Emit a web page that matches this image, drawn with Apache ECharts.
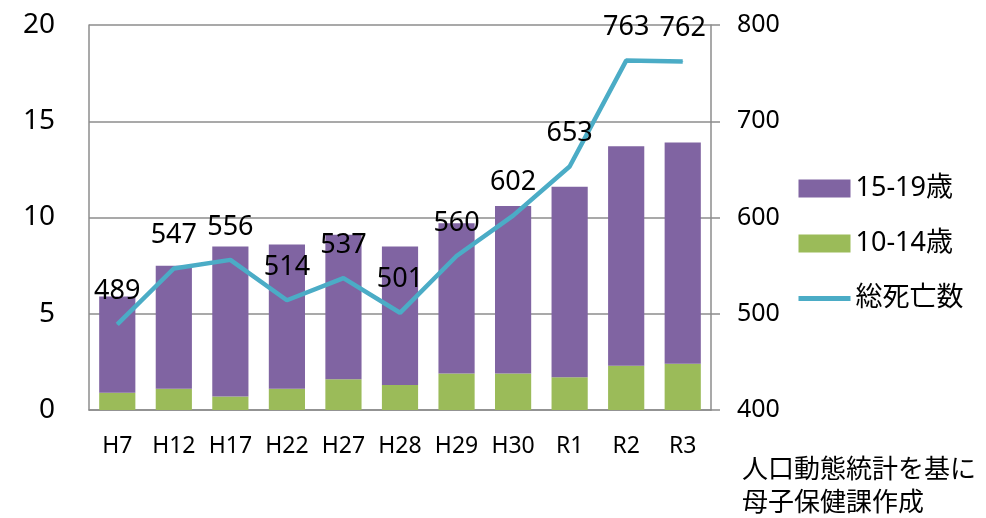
<!DOCTYPE html>
<html>
<head>
<meta charset="utf-8">
<script src="https://cdn.jsdelivr.net/npm/echarts@6/dist/echarts.min.js"></script>
<style>
  html, body { margin: 0; padding: 0; background: #fff; }
  #chart { width: 986px; height: 518px; }
</style>
</head>
<body>
<div id="chart"></div>
<script>
const categories = ["H7", "H12", "H17", "H22", "H27", "H28", "H29", "H30", "R1", "R2", "R3"];
const age10to14 = [0.9, 1.1, 0.7, 1.1, 1.6, 1.3, 1.9, 1.9, 1.7, 2.3, 2.4];
const age15to19 = [5.0, 6.4, 7.8, 7.5, 7.5, 7.2, 7.8, 8.7, 9.9, 11.4, 11.5];
const totalDeaths = [489, 547, 556, 514, 537, 501, 560, 602, 653, 763, 762];
const leftTicks = [0, 20, 5];
const rightTicks = [400, 800, 100];

const font = "'Noto Sans', 'Noto Sans CJK JP', sans-serif";
const gray = "#8c8c8c";

const mychart = echarts.init(document.getElementById("chart"));
const option = {
  animation: false,
  color: ["#8064A2", "#9BBB59", "#4BACC6"],
  textStyle: { fontFamily: font, color: "#000" },
  grid: { left: 89, right: 275, top: 25, bottom: 108 },
  legend: {
    orient: "vertical",
    left: 796,
    top: 172,
    padding: 0,
    itemWidth: 52,
    itemHeight: 18,
    itemGap: 22,
    textStyle: { fontSize: 27, fontFamily: font, color: "#000", lineHeight: 33 },
    data: [
      { name: "15-19歳", icon: "rect" },
      { name: "10-14歳", icon: "rect" },
      { name: "総死亡数", itemStyle: { opacity: 0 }, lineStyle: { width: 5 } },
    ],
  },
  xAxis: {
    type: "category",
    data: categories,
    axisLine: { lineStyle: { color: gray, width: 1.5 } },
    axisTick: { show: false },
    axisLabel: { fontSize: 23, color: "#000", margin: 25, fontFamily: font },
  },
  yAxis: [
    {
      type: "value",
      min: leftTicks[0],
      max: leftTicks[1],
      interval: leftTicks[2],
      axisLine: { show: true, lineStyle: { color: gray, width: 1.5 } },
      axisTick: { show: false },
      splitLine: { lineStyle: { color: gray, width: 1.5 } },
      axisLabel: { fontSize: 28, color: "#000", margin: 34, fontFamily: font },
    },
    {
      type: "value",
      min: rightTicks[0],
      max: rightTicks[1],
      interval: rightTicks[2],
      position: "right",
      axisLine: { show: true, lineStyle: { color: gray, width: 1.5 } },
      axisTick: { show: true, length: 9, lineStyle: { color: gray, width: 1.5 } },
      splitLine: { show: false },
      axisLabel: { fontSize: 25, color: "#000", margin: 26, fontFamily: font },
    },
  ],
  series: [
    {
      name: "10-14歳",
      type: "bar",
      stack: "one",
      barCategoryGap: "36%",
      itemStyle: { color: "#9BBB59" },
      data: age10to14,
    },
    {
      name: "15-19歳",
      type: "bar",
      stack: "one",
      barCategoryGap: "36%",
      itemStyle: { color: "#8064A2" },
      data: age15to19,
    },
    {
      name: "総死亡数",
      type: "line",
      yAxisIndex: 1,
      symbol: "circle",
      symbolSize: 1,
      lineStyle: { color: "#4BACC6", width: 4.5 },
      itemStyle: { color: "#4BACC6" },
      label: {
        show: true,
        position: "top",
        distance: 19,
        fontSize: 27,
        color: "#000",
        fontFamily: font,
      },
      data: totalDeaths,
      z: 5,
    },
  ],
  graphic: [
    {
      type: "text",
      left: 742,
      top: 454,
      style: {
        text: "人口動態統計を基に\n母子保健課作成",
        fontSize: 26,
        lineHeight: 33,
        fill: "#000",
        fontFamily: font,
      },
    },
  ],
};
mychart.setOption(option);
</script>
</body>
</html>
